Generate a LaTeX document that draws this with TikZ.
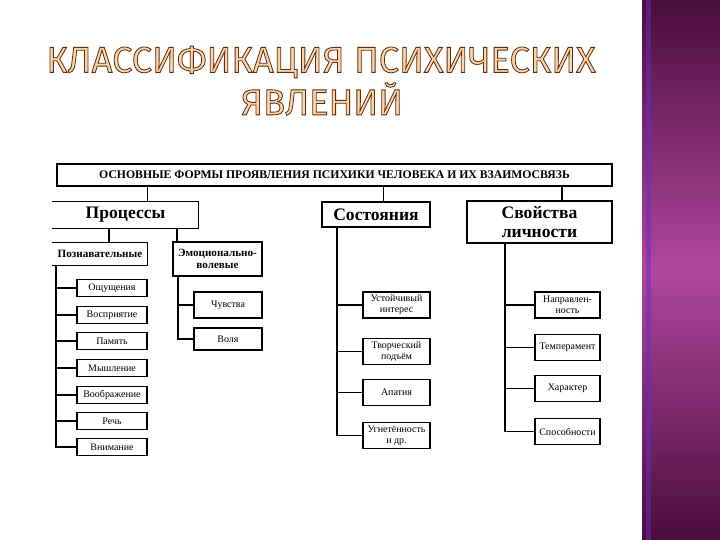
\documentclass[tikz,border=0pt]{standalone}
\usepackage{fontspec}
\setmainfont{Liberation Serif}
\newfontfamily\ttlfont{Fira Sans}
\definecolor{ppltop}{rgb}{0.29,0.05,0.24}
\definecolor{pplmid}{rgb}{0.69,0.28,0.62}
\definecolor{ttlfill}{rgb}{0.99,0.84,0.66}
\newcommand\outl[1]{\special{pdf:code 2 Tr 0.7 w 0.38 0.17 0.06 RG}#1\special{pdf:code 0 Tr}}
\tikzset{
  blk/.style={draw,line width=1.2pt,inner sep=1pt,align=center},
  sz/.style 2 args={minimum width=#1*0.03cm,minimum height=#2*0.03cm},
  leaf/.style={blk,font=\fontsize{8.5}{9.5}\selectfont},
  lnk/.style={line width=1.2pt},
  thn/.style={line width=0.7pt},
  ttl/.style={font=\ttlfont\fontsize{31}{32}\selectfont,inner sep=0pt,text=ttlfill}
}
\begin{document}
\begin{tikzpicture}[x=0.03cm,y=-0.03cm]
\useasboundingbox (0,0) rectangle (720,540);
\fill[white] (0,0) rectangle (720,540);
\shade[top color=ppltop,bottom color=ppltop,middle color=pplmid] (642,0) rectangle (720,540);
\fill[pplmid!60!blue,opacity=0.5] (646,0) rectangle (651,540);
% title
\node[ttl] (t1) at (321,62) {\outl{КЛАССИФИКАЦИЯ ПСИХИЧЕСКИХ}};
\node[ttl] (t2) at (322,99) {\outl{ЯВЛЕНИЙ}};
% top level
\node[blk,sz={555}{22},font=\bfseries\fontsize{10}{11}\selectfont] (main) at (334.5,175)
  {ОСНОВНЫЕ ФОРМЫ ПРОЯВЛЕНИЯ ПСИХИКИ ЧЕЛОВЕКА И ИХ ВЗАИМОСВЯЗЬ};
\node[blk,draw=none,sz={145}{26},font=\bfseries\fontsize{15}{17}\selectfont] (proc) at (125.5,215) {Процессы};
\node[blk,sz={108}{25},font=\bfseries\fontsize{15}{17}\selectfont] (sost) at (376,214.5) {Состояния};
\node[blk,sz={145}{42},font=\bfseries\fontsize{15}{17}\selectfont] (svoi) at (539.5,222) {Свойства\\личности};
\draw[lnk] (proc.north west) -- (proc.north east) -- (proc.south east) -- (proc.south west);
\coordinate (kp) at (147,0);
\coordinate (ks) at (383,0);
\coordinate (kv) at (562,0);
\draw[thn] (kp |- main.south) -- (kp |- proc.north);
\draw[thn] (ks |- main.south) -- (ks |- sost.north);
\draw[lnk] (kv |- main.south) -- (kv |- svoi.north);
% processes
\node[blk,draw=none,sz={94}{22},font=\bfseries\fontsize{9.5}{10.5}\selectfont] (pozn) at (100,254) {Познавательные};
\node[blk,sz={89}{34},font=\bfseries\fontsize{9.5}{10.5}\selectfont] (emo) at (217.5,259) {Эмоционально-\\волевые};
\draw[lnk] (pozn.north west) -- (pozn.north east) -- (pozn.south east) -- (pozn.south west);
\coordinate (kpz) at (109,0);
\coordinate (kem) at (177,0);
\draw[lnk] (kpz |- proc.south) -- (kpz |- pozn.north);
\draw[lnk] (kem |- proc.south) -- (kem |- emo.north);
\coordinate (tz) at (56,0);
\foreach \t/\y [count=\i] in {Ощущения/288,Восприятие/315,Память/341,Мышление/368,Воображение/395,Речь/421,Внимание/447}
  \node[leaf,sz={70}{17}] (pz\i) at (112,\y) {\t};
\foreach \i in {1,...,6}
  \draw[lnk] (tz |- pz\i.west) -- (pz\i.west);
\draw[lnk] (tz |- pozn.south) |- (pz7.west);
\coordinate (te) at (178,0);
\node[leaf,sz={68}{26}] (em1) at (228,305) {Чувства};
\node[leaf,sz={68}{22}] (em2) at (228,339) {Воля};
\draw[lnk] (te |- em1.west) -- (em1.west);
\draw[lnk] (te |- emo.south) |- (em2.west);
% states
\coordinate (tsc) at (337,0);
\foreach \t/\y [count=\i] in {{Устойчивый\\интерес}/305,{Творческий\\подъём}/351.5,Апатия/392.5,{Угнетённость\\и др.}/435.5}
  \node[leaf,sz={67}{26}] (sc\i) at (396.5,\y) {\t};
\foreach \i in {1,...,3}
  \draw[lnk] (tsc |- sc\i.west) -- (sc\i.west);
\draw[lnk] (tsc |- sost.south) |- (sc4.west);
% personality
\coordinate (tsv) at (505,0);
\foreach \t/\y [count=\i] in {{Направлен-\\ность}/305,Темперамент/347.5,Характер/388.5,Способности/431.5}
  \node[leaf,sz={65}{26}] (sv\i) at (567.5,\y) {\t};
\foreach \i in {1,...,3}
  \draw[lnk] (tsv |- sv\i.west) -- (sv\i.west);
\draw[lnk] (tsv |- svoi.south) |- (sv4.west);
\end{tikzpicture}
\end{document}
